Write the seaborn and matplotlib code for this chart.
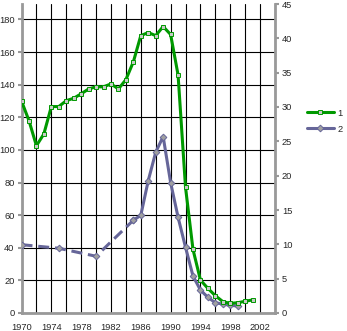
import matplotlib
matplotlib.use("Agg")
import matplotlib.pyplot as plt
import seaborn as sns
import pandas as pd
from matplotlib.lines import Line2D

sns.set_style("white")
plt.rcParams['font.family'] = ['Liberation Sans', 'DejaVu Sans']

years1 = list(range(1970, 2002))
series1 = [130, 118, 102.6, 109.8, 126.6, 126.6, 130.2, 131.7, 134.4, 137.4,
           138.7, 138.7, 140.5, 137.4, 143.1, 154, 170.1, 172, 170.1, 175.7,
           170.8, 146, 77, 39, 20.2, 15.1, 10.6, 7, 5.9, 6.3, 7.2, 8.0]

years2_sparse = [1970, 1975, 1980, 1985]
series2_sparse = [41.9, 39.7, 34.8, 56.9]
years2 = list(range(1985, 2000))
series2 = [56.9, 59.9, 81.2, 98.6, 108.2, 80, 58.7, 40.3, 22.7, 14.1, 9.6, 6.3, 5.5, 4.7, 4.3]

labels = ["1", "2"]
xticks_major = list(range(1970, 2003, 4))
yticks_left = list(range(0, 181, 20))
yticks_right = list(range(0, 46, 5))

green = "#009900"
purple = "#666699"
lw = 2.2

W, H = 347, 331
fig = plt.figure(figsize=(W / 100, H / 100), dpi=100)
ax = fig.add_axes([21.5 / W, (H - 313) / H, (275 - 21.5) / W, (313 - 4) / H])

d1 = pd.DataFrame({"year": years1, "v": series1})
d2a = pd.DataFrame({"year": years2_sparse, "v": series2_sparse})
d2b = pd.DataFrame({"year": years2, "v": series2})

pm = dict(marker="D", markersize=3.4, markerfacecolor="#a0a0a0",
          markeredgecolor=purple, markeredgewidth=0.7)
gm = dict(marker="s", markersize=2.8, markerfacecolor="#c8c8c8",
          markeredgecolor=green, markeredgewidth=0.7)

sns.lineplot(data=d2a, x="year", y="v", ax=ax, color=purple, linewidth=lw,
             linestyle=(0, (3.6, 1.9)), zorder=3, **pm)
sns.lineplot(data=d2b, x="year", y="v", ax=ax, color=purple, linewidth=lw,
             zorder=3, **pm)
sns.lineplot(data=d1, x="year", y="v", ax=ax, color=green, linewidth=lw,
             zorder=4, **gm)

ax.set_xlim(1970, 2004)
ax.set_ylim(0, 189.5)
ax.set_xticks(list(range(1970, 2005, 2)))
ax.set_xticklabels([str(y) if y in xticks_major else "" for y in range(1970, 2005, 2)])
ax.set_yticks(yticks_left)
ax.set_xlabel("")
ax.set_ylabel("")
ax.grid(True, color="black", linewidth=0.8)
ax.set_axisbelow(True)

ax.spines["top"].set_visible(False)
ax.spines["right"].set_visible(False)
for s in ["left", "bottom"]:
    ax.spines[s].set_color("#999999")
    ax.spines[s].set_linewidth(2)
ax.tick_params(axis="both", direction="out", length=3, width=1.5, color="#999999",
               labelsize=6.7, pad=2)
ax.tick_params(axis="x", pad=4)

ax2 = ax.twinx()
ax2.set_ylim(0, 45)
ax2.set_yticks(yticks_right)
for s in ["top", "left", "bottom"]:
    ax2.spines[s].set_visible(False)
ax2.spines["right"].set_color("#999999")
ax2.spines["right"].set_linewidth(2)
ax2.tick_params(axis="y", direction="out", length=3, width=1.5, color="#999999",
                labelsize=6.7, pad=2)
ax2.grid(False)

handles = [
    Line2D([], [], color=green, linewidth=lw, **gm),
    Line2D([], [], color=purple, linewidth=lw, **pm),
]
fig.legend(handles, labels, loc="upper left", bbox_to_anchor=(303 / W, 1 - 105 / H),
           frameon=False, fontsize=6.7, handlelength=2.9, handletextpad=0.4,
           labelspacing=0.75, borderaxespad=0)

fig.savefig("out.png", dpi=100)
